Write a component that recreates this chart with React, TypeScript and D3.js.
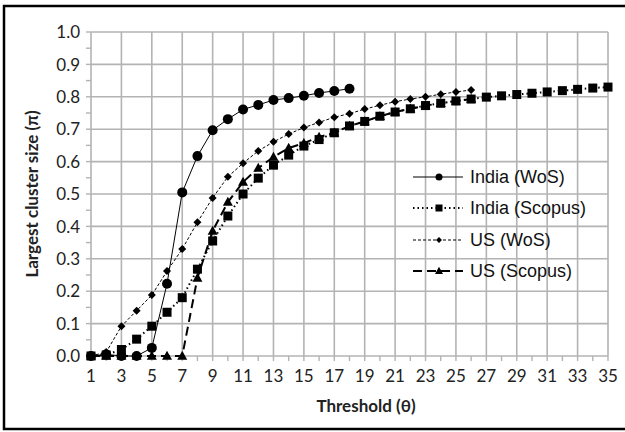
import React from "react";
import * as d3 from "d3";

const thresholds = d3.range(1, 36);
const indiaWoS = [0, 0.005, 0, 0, 0.025, 0.223, 0.505, 0.617, 0.697, 0.731, 0.761, 0.775, 0.79, 0.796, 0.803, 0.812, 0.818, 0.825];
const indiaScopus = [0, 0.003, 0.02, 0.052, 0.092, 0.135, 0.18, 0.268, 0.355, 0.432, 0.5, 0.549, 0.589, 0.62, 0.648, 0.668, 0.689, 0.71, 0.724, 0.74, 0.753, 0.763, 0.773, 0.78, 0.787, 0.793, 0.799, 0.803, 0.807, 0.811, 0.815, 0.819, 0.823, 0.827, 0.83];
const usWoS = [0, 0.012, 0.092, 0.14, 0.188, 0.262, 0.33, 0.413, 0.488, 0.553, 0.595, 0.633, 0.661, 0.685, 0.705, 0.721, 0.737, 0.748, 0.762, 0.774, 0.785, 0.793, 0.8, 0.808, 0.815, 0.821];
const usScopus = [0, 0, 0, 0, 0, 0, 0, 0.241, 0.386, 0.475, 0.537, 0.58, 0.614, 0.642, 0.657, 0.676, 0.689, 0.71, 0.724, 0.74, 0.753, 0.763, 0.773, 0.78, 0.787, 0.793];
const yTicks = [0, 0.1, 0.2, 0.3, 0.4, 0.5, 0.6, 0.7, 0.8, 0.9, 1.0];
const xTickLabels = d3.range(1, 36, 2);
const seriesNames = ["India (WoS)", "India (Scopus)", "US (WoS)", "US (Scopus)"];

const W = 625, H = 432;
const x = d3.scaleLinear().domain([1, 35]).range([91, 608]);
const y = d3.scaleLinear().domain([0, 1]).range([356, 32]);

type Style = { dash: string; width: number; marker: string; cap: string };
const styles: Style[] = [
  { dash: "none", width: 1, marker: "circle", cap: "butt" },
  { dash: "1.5,3", width: 2, marker: "square", cap: "butt" },
  { dash: "3,2", width: 1, marker: "diamond", cap: "butt" },
  { dash: "9,5", width: 2, marker: "triangle", cap: "butt" },
];

function Marker({ kind, cx, cy, s }: { kind: string; cx: number; cy: number; s: number }) {
  if (kind === "circle") return <circle cx={cx} cy={cy} r={s / 2} fill="#000" />;
  if (kind === "square") return <rect x={cx - s / 2} y={cy - s / 2} width={s} height={s} fill="#000" />;
  if (kind === "diamond") {
    const r = s / 2;
    return <path d={`M${cx},${cy - r}L${cx + r},${cy}L${cx},${cy + r}L${cx - r},${cy}Z`} fill="#000" />;
  }
  const r = s / 2;
  return <path d={`M${cx},${cy - r * 1.05}L${cx + r},${cy + r * 0.75}L${cx - r},${cy + r * 0.75}Z`} fill="#000" />;
}

export default function App() {
  const allSeries = [indiaWoS, indiaScopus, usWoS, usScopus];
  const markerSizes = [10, 9, 8, 10];
  const legendMarkerSizes = [7, 7, 6, 8];
  const line = d3.line<number>().x((_, i) => x(thresholds[i])).y((d) => y(d));
  const minorY = d3.range(0, 1.0001, 0.05);
  const gridColor = "#b3b3b3";
  const tickFont = "Lato, 'Open Sans', sans-serif";
  const legendY = [177, 208, 240, 271];
  return (
    <svg width={W} height={H} style={{ position: "absolute", left: 0, top: 0 }}>
      <rect x={0} y={0} width={W} height={H} fill="#fff" />
      <rect x={4} y={6} width={W + 10} height={423} fill="none" stroke="#000" strokeWidth={2.5} />
      {/* gridlines */}
      {yTicks.map((t) => (
        <line key={"gy" + t} x1={x(1)} x2={x(35)} y1={y(t)} y2={y(t)} stroke={gridColor} strokeWidth={1.6} />
      ))}
      {xTickLabels.map((t) => (
        <line key={"gx" + t} x1={x(t)} x2={x(t)} y1={y(0)} y2={y(1)} stroke={gridColor} strokeWidth={1.6} />
      ))}
      {/* ticks */}
      {minorY.map((t) => (
        <line key={"ty" + t} x1={x(1) - 5} x2={x(1)} y1={y(t)} y2={y(t)} stroke={gridColor} strokeWidth={1.4} />
      ))}
      {thresholds.map((t) => (
        <line key={"tx" + t} x1={x(t)} x2={x(t)} y1={y(0)} y2={y(0) + 5} stroke={gridColor} strokeWidth={1.4} />
      ))}
      {/* tick labels */}
      {yTicks.map((t) => (
        <text key={"ly" + t} x={80} y={y(t)} dy="0.36em" textAnchor="end" fontFamily={tickFont} fontSize={17} fill="#222">
          {t.toFixed(1)}
        </text>
      ))}
      {xTickLabels.map((t) => (
        <text key={"lx" + t} x={x(t)} y={382} textAnchor="middle" fontFamily={tickFont} fontSize={17} fill="#222">
          {t}
        </text>
      ))}
      {/* axis titles */}
      <text x={366} y={412} textAnchor="middle" fontFamily={tickFont} fontWeight="bold" fontSize={17} fill="#222">
        Threshold (θ)
      </text>
      <text transform={`translate(38,${(y(0) + y(1)) / 2}) rotate(-90)`} textAnchor="middle" fontFamily={tickFont} fontWeight="bold" fontSize={17} fill="#222">
        Largest cluster size (π)
      </text>
      {/* series */}
      {allSeries.map((s, si) => (
        <g key={"s" + si}>
          <path d={line(s) || ""} fill="none" stroke="#000" strokeWidth={styles[si].width} strokeDasharray={styles[si].dash} />
          {s.map((v, i) => (
            <Marker key={i} kind={styles[si].marker} cx={x(thresholds[i])} cy={y(v)} s={markerSizes[si]} />
          ))}
        </g>
      ))}
      {/* legend */}
      {seriesNames.map((n, i) => (
        <g key={"lg" + i}>
          <line x1={413} x2={463} y1={legendY[i]} y2={legendY[i]} stroke="#000" strokeWidth={styles[i].width} strokeDasharray={styles[i].dash} />
          <Marker kind={styles[i].marker} cx={439} cy={legendY[i]} s={legendMarkerSizes[i]} />
          <text x={470} y={legendY[i]} dy="0.36em" fontFamily="'Liberation Sans', Arial, sans-serif" fontSize={18} fill="#111">
            {n}
          </text>
        </g>
      ))}
    </svg>
  );
}
